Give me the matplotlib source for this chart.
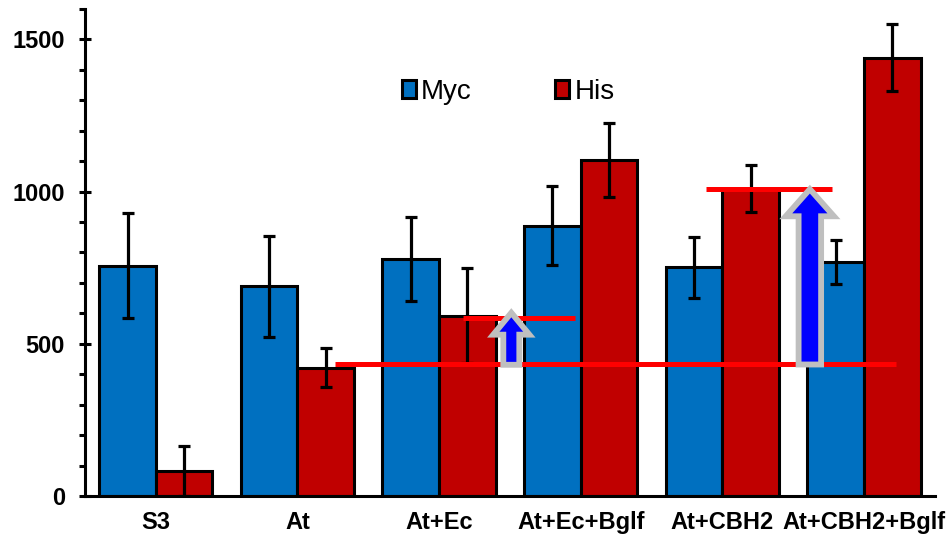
import numpy as np
import matplotlib.pyplot as plt
from matplotlib.patches import FancyArrow, Patch
from matplotlib.ticker import MultipleLocator

plt.rcParams['font.family'] = ['Liberation Sans', 'DejaVu Sans']

groups = ['S3', 'At', 'At+Ec', 'At+Ec+Bglf', 'At+CBH2', 'At+CBH2+Bglf']
myc = [757, 689, 778, 888, 752, 769]
myc_err = [172, 166, 138, 129, 100, 73]
his = [82, 421, 592, 1103, 1010, 1440]
his_err = [83, 64, 156, 121, 78, 110]

# reference levels (y, x start, x end) drawn as red lines
ref_y = [434, 586, 1007]
ref_x0 = [1.266, 2.171, 3.887]
ref_x1 = [5.224, 2.963, 4.774]

# increase arrows (x, tail, tip)
arrow_x = [2.51, 4.618]
arrow_y0 = [431, 432]
arrow_y1 = [602, 1008]
arrow_w = [0.113, 0.159]
arrow_hw = [0.255, 0.34]
arrow_hl = [72, 89]

blue = '#0070C0'
red = '#C00000'

fig = plt.figure(figsize=(9.49, 5.38), dpi=100)
ax = fig.add_axes([0.0896, 0.0781, 0.8954, 0.9052])

x = np.arange(len(groups))
w = 0.4
err_kw = dict(ecolor='black', elinewidth=2.3, capsize=4.5, capthick=2.3)
ax.bar(x - w / 2, myc, w, yerr=myc_err, color=blue, edgecolor='black',
       linewidth=2.2, error_kw=err_kw, label='Myc')
ax.bar(x + w / 2, his, w, yerr=his_err, color=red, edgecolor='black',
       linewidth=2.2, error_kw=err_kw, label='His')

for yy, a, b in zip(ref_y, ref_x0, ref_x1):
    ax.plot([a, b], [yy, yy], color='#FF0000', lw=3.6, solid_capstyle='butt', zorder=5)

for ax_x, y0, y1, sw, hw, hl in zip(arrow_x, arrow_y0, arrow_y1, arrow_w, arrow_hw, arrow_hl):
    ax.add_patch(FancyArrow(ax_x, y0, 0, y1 - y0, width=sw, head_width=hw,
                            head_length=hl, length_includes_head=True,
                            facecolor='#0000FF', edgecolor='#BFBFBF', lw=4.2,
                            joinstyle='miter', zorder=6))

ax.set_xlim(-0.5, 5.5)
ax.set_ylim(0, 1600)
ax.yaxis.set_major_locator(MultipleLocator(500))
ax.yaxis.set_minor_locator(MultipleLocator(100))
ax.set_xticks(x)
ax.set_xticklabels(groups)

for s in ['top', 'right']:
    ax.spines[s].set_visible(False)
for s in ['left', 'bottom']:
    ax.spines[s].set_linewidth(2.2)

ax.tick_params(axis='y', which='major', direction='inout', length=9, width=2.2,
               labelsize=17, pad=10)
ax.tick_params(axis='y', which='minor', direction='out', length=4, width=2.2)
ax.tick_params(axis='x', length=0, labelsize=17, pad=11)
for lab in ax.get_xticklabels() + ax.get_yticklabels():
    lab.set_fontweight('bold')

handles = [Patch(facecolor=blue, edgecolor='black', linewidth=2.2),
           Patch(facecolor=red, edgecolor='black', linewidth=2.2)]
ax.legend(handles, ['Myc', 'His'], ncol=2, frameon=False, fontsize=20,
          loc='center', bbox_to_anchor=(0.498, 0.83), handlelength=0.5,
          handleheight=0.6, handletextpad=0.2, columnspacing=3.0)

fig.savefig('out.png', dpi=100)
